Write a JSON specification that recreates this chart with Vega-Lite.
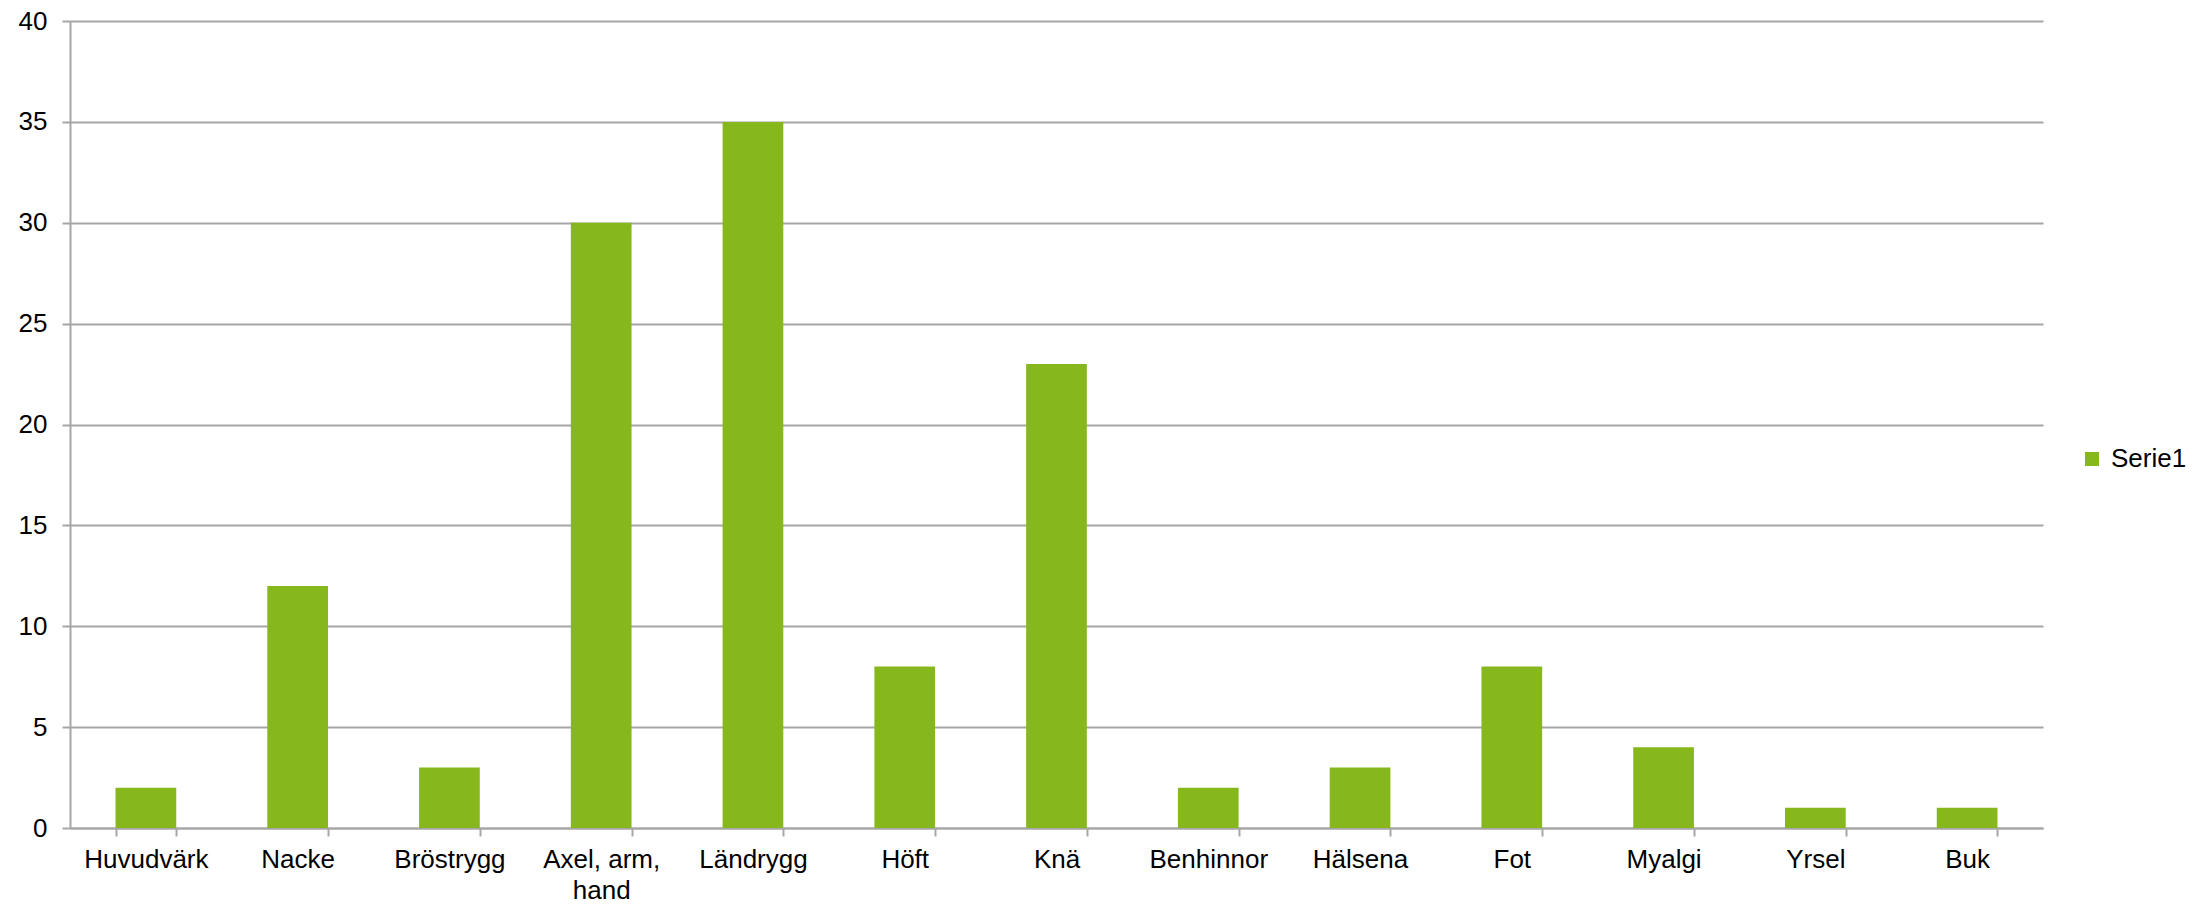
{
  "$schema": "https://vega.github.io/schema/vega-lite/v6.json",
  "autosize": {"type": "none"},
  "width": 1973,
  "height": 807,
  "padding": {"left": 70, "top": 21, "right": 163, "bottom": 77},
  "background": "white",
  "config": {
    "view": {"stroke": null},
    "font": "Liberation Sans"
  },
  "data": {
    "values": [
      {"kategori": "Huvudvärk", "varde": 2, "serie": "Serie1"},
      {"kategori": "Nacke", "varde": 12, "serie": "Serie1"},
      {"kategori": "Bröstrygg", "varde": 3, "serie": "Serie1"},
      {"kategori": "Axel, arm, hand", "varde": 30, "serie": "Serie1"},
      {"kategori": "Ländrygg", "varde": 35, "serie": "Serie1"},
      {"kategori": "Höft", "varde": 8, "serie": "Serie1"},
      {"kategori": "Knä", "varde": 23, "serie": "Serie1"},
      {"kategori": "Benhinnor", "varde": 2, "serie": "Serie1"},
      {"kategori": "Hälsena", "varde": 3, "serie": "Serie1"},
      {"kategori": "Fot", "varde": 8, "serie": "Serie1"},
      {"kategori": "Myalgi", "varde": 4, "serie": "Serie1"},
      {"kategori": "Yrsel", "varde": 1, "serie": "Serie1"},
      {"kategori": "Buk", "varde": 1, "serie": "Serie1"}
    ]
  },
  "mark": {"type": "bar"},
  "encoding": {
    "x": {
      "field": "kategori",
      "type": "nominal",
      "sort": null,
      "scale": {"paddingInner": 0.6, "paddingOuter": 0.3},
      "axis": {
        "title": null,
        "labelAngle": 0,
        "labelFontSize": 26,
        "labelColor": "#000000",
        "labelPadding": 10,
        "labelLineHeight": 31,
        "labelExpr": "datum.value == 'Axel, arm, hand' ? ['Axel, arm,', 'hand'] : datum.value",
        "tickBand": "extent",
        "tickSize": 8,
        "tickColor": "#a6a6a6",
        "tickWidth": 2,
        "domainColor": "#a6a6a6",
        "domainWidth": 2,
        "grid": false
      }
    },
    "y": {
      "field": "varde",
      "type": "quantitative",
      "scale": {"domain": [0, 40], "nice": false},
      "axis": {
        "title": null,
        "values": [0, 5, 10, 15, 20, 25, 30, 35, 40],
        "labelFontSize": 26,
        "labelColor": "#000000",
        "labelPadding": 15,
        "tickSize": 8,
        "tickColor": "#a6a6a6",
        "tickWidth": 2,
        "domainColor": "#a6a6a6",
        "domainWidth": 2,
        "grid": true,
        "gridColor": "#a6a6a6",
        "gridWidth": 2
      }
    },
    "color": {
      "field": "serie",
      "type": "nominal",
      "scale": {"range": ["#86b81e"]},
      "legend": {
        "title": null,
        "orient": "none",
        "legendX": 2009,
        "legendY": 425,
        "symbolType": "square",
        "symbolSize": 196,
        "symbolStrokeWidth": 0,
        "labelFontSize": 26,
        "labelColor": "#000000",
        "labelOffset": 6
      }
    }
  }
}
